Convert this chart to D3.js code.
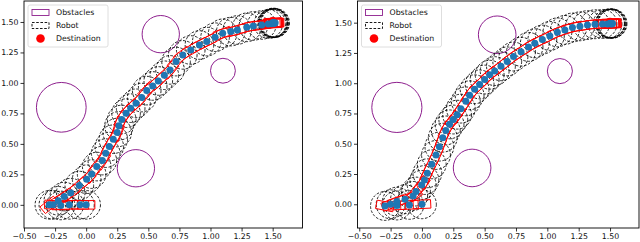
<!DOCTYPE html>
<html>
<head>
<meta charset="utf-8">
<script src="https://cdn.jsdelivr.net/npm/d3@7"></script>
<style>
  body { margin: 0; background: #fff; }
  svg { display: block; }
  text { font-family: "DejaVu Sans", sans-serif; }
</style>
</head>
<body>
<div id="chart"></div>
<script>
// obstacles (same in both runs)
const obstacleX = [0.6, 1.1, -0.2, 0.4];
const obstacleY = [1.4, 1.1, 0.8, 0.3];
const obstacleR = [0.15, 0.1, 0.2, 0.15];

const destination = [1.5, 1.5];

// robot poses, left run
const leftPathX = [0.0, -0.05, -0.135, -0.205, -0.264, -0.296, -0.224, -0.176, -0.124, -0.055, 0.004, 0.044, 0.085, 0.13, 0.157, 0.186, 0.218, 0.25, 0.264, 0.286, 0.321, 0.358, 0.401, 0.447, 0.487, 0.535, 0.58, 0.629, 0.675, 0.723, 0.777, 0.841, 0.911, 0.97, 1.037, 1.098, 1.163, 1.216, 1.292, 1.345, 1.412, 1.465, 1.49, 1.5, 1.505, 1.51, 1.5, 1.515, 1.505, 1.52];
const leftPathY = [0.0, 0.0, 0.0, -0.005, 0.0, 0.0, 0.033, 0.068, 0.10, 0.158, 0.21, 0.252, 0.314, 0.363, 0.424, 0.478, 0.538, 0.593, 0.648, 0.70, 0.752, 0.793, 0.833, 0.88, 0.937, 0.975, 1.016, 1.063, 1.107, 1.175, 1.23, 1.27, 1.311, 1.339, 1.375, 1.407, 1.421, 1.434, 1.456, 1.467, 1.475, 1.484, 1.486, 1.489, 1.49, 1.492, 1.494, 1.49, 1.496, 1.493];

// right run
const rightPathX = [0.0, -0.1, -0.2, -0.295, -0.25, -0.2, -0.135, -0.07, -0.047, -0.002, 0.02, 0.043, 0.078, 0.112, 0.139, 0.166, 0.19, 0.22, 0.25, 0.28, 0.31, 0.35, 0.38, 0.42, 0.46, 0.5, 0.54, 0.58, 0.63, 0.68, 0.73, 0.79, 0.85, 0.9, 0.96, 1.02, 1.08, 1.14, 1.2, 1.26, 1.32, 1.38, 1.44, 1.48, 1.5, 1.51, 1.5, 1.515, 1.505, 1.52];
const rightPathY = [0.0, -0.005, -0.01, -0.014, 0.0, 0.022, 0.042, 0.069, 0.105, 0.16, 0.2, 0.256, 0.33, 0.407, 0.476, 0.55, 0.61, 0.66, 0.70, 0.74, 0.79, 0.85, 0.9, 0.95, 0.99, 1.03, 1.07, 1.1, 1.14, 1.18, 1.22, 1.26, 1.3, 1.33, 1.36, 1.39, 1.42, 1.44, 1.46, 1.47, 1.48, 1.487, 1.49, 1.49, 1.491, 1.492, 1.494, 1.49, 1.496, 1.493];

const xTicks = [-0.5, -0.25, 0, 0.25, 0.5, 0.75, 1.0, 1.25, 1.5];
const yTicks = [0, 0.25, 0.5, 0.75, 1.0, 1.25, 1.5];
const legendLabels = ["Obstacles", "Robot", "Destination"];

// robot footprint in data units
const robotLength = 0.14;
const robotWidth = 0.07;
const robotRadius = 0.115;

const W = 640, H = 242;
const svg = d3.select("#chart").append("svg").attr("width", W).attr("height", H);

const panels = [
  {left: 24, right: 302.5, top: 1, bottom: 228, xd: [-0.5, 1.74], yd: [-0.19, 1.672], px: leftPathX, py: leftPathY},
  {left: 357.5, right: 639, top: 1, bottom: 228, xd: [-0.514, 1.731], yd: [-0.196, 1.679], px: rightPathX, py: rightPathY}
];

panels.forEach(p => {
  const x = d3.scaleLinear().domain(p.xd).range([p.left, p.right]);
  const y = d3.scaleLinear().domain(p.yd).range([p.bottom, p.top]);
  const g = svg.append("g");
  const clipId = "clip" + p.left;
  g.append("clipPath").attr("id", clipId).append("rect")
    .attr("x", p.left).attr("y", p.top).attr("width", p.right - p.left).attr("height", p.bottom - p.top);
  const plot = g.append("g").attr("clip-path", "url(#" + clipId + ")");

  // obstacles
  plot.selectAll("circle.obs").data(obstacleX).enter().append("circle")
    .attr("cx", d => x(d)).attr("cy", (d, i) => y(obstacleY[i]))
    .attr("r", (d, i) => x(obstacleR[i]) - x(0))
    .attr("fill", "none").attr("stroke", "#8e1f8e").attr("stroke-width", 1);

  const poses = p.px.map((d, i) => {
    // heading from neighbouring poses
    const j = Math.min(i + 1, p.px.length - 1), k = Math.max(i - 1, 0);
    let a = Math.atan2(p.py[j] - p.py[k], p.px[j] - p.px[k]);
    if (i >= p.px.length - 8) a = 0.05;
    return {x: d, y: p.py[i], a: a};
  });

  // dashed bounding circles of the robot
  plot.selectAll("circle.robot").data(poses).enter().append("circle")
    .attr("cx", d => x(d.x)).attr("cy", d => y(d.y))
    .attr("r", x(robotRadius) - x(0))
    .attr("fill", "none").attr("stroke", "#000").attr("stroke-width", 0.85)
    .attr("stroke-dasharray", "2.6,1.6");

  // red robot bodies
  plot.selectAll("polygon.body").data(poses).enter().append("polygon")
    .attr("points", d => {
      const c = Math.cos(d.a), s = Math.sin(d.a);
      const hl = robotLength / 2, hw = robotWidth / 2;
      return [[hl, hw], [-hl, hw], [-hl, -hw], [hl, -hw]].map(q =>
        x(d.x + q[0] * c - q[1] * s) + "," + y(d.y + q[0] * s + q[1] * c)).join(" ");
    })
    .attr("fill", "none").attr("stroke", "#ff0000").attr("stroke-width", 1);

  // destination
  plot.append("circle").attr("cx", x(destination[0])).attr("cy", y(destination[1]))
    .attr("r", 5).attr("fill", "#ff0000");

  // trajectory points
  plot.selectAll("circle.pt").data(poses).enter().append("circle")
    .attr("cx", d => x(d.x)).attr("cy", d => y(d.y)).attr("r", 3.5)
    .attr("fill", "#1f77b4");

  // axes
  const xAxis = d3.axisBottom(x).tickValues(xTicks).tickFormat(d3.format(".2f")).tickSize(3.5).tickPadding(2);
  const yAxis = d3.axisLeft(y).tickValues(yTicks).tickFormat(d3.format(".2f")).tickSize(3.5).tickPadding(2);
  const gx = g.append("g").attr("transform", "translate(0," + p.bottom + ")").call(xAxis);
  const gy = g.append("g").attr("transform", "translate(" + p.left + ",0)").call(yAxis);
  [gx, gy].forEach(a => {
    a.select(".domain").remove();
    a.selectAll("text").attr("font-size", 7.8).attr("fill", "#111").attr("font-family", "DejaVu Sans");
    a.selectAll("line").attr("stroke", "#000").attr("stroke-width", 0.8);
  });

  g.append("rect").attr("x", p.left).attr("y", p.top)
    .attr("width", p.right - p.left).attr("height", p.bottom - p.top)
    .attr("fill", "none").attr("stroke", "#000").attr("stroke-width", 0.9);

  // legend
  const lg = g.append("g").attr("transform", "translate(" + (p.left + 4) + "," + (p.top + 4) + ")");
  lg.append("rect").attr("width", 80).attr("height", 42).attr("rx", 2)
    .attr("fill", "#fff").attr("fill-opacity", 0.8).attr("stroke", "#d5d5d5").attr("stroke-width", 0.8);
  lg.append("rect").attr("x", 4).attr("y", 4.5).attr("width", 17).attr("height", 6)
    .attr("fill", "none").attr("stroke", "#8e1f8e").attr("stroke-width", 0.9);
  lg.append("rect").attr("x", 4).attr("y", 17.5).attr("width", 17).attr("height", 6)
    .attr("fill", "none").attr("stroke", "#000").attr("stroke-width", 0.9).attr("stroke-dasharray", "2.6,1.6");
  lg.append("circle").attr("cx", 12.5).attr("cy", 33.5).attr("r", 4.3).attr("fill", "#ff0000");
  lg.selectAll("text").data(legendLabels).enter().append("text")
    .attr("x", 28).attr("y", (d, i) => 7.7 + i * 13)
    .attr("dy", "0.35em").attr("font-size", 7.8).attr("fill", "#111").text(d => d);
});
</script>
</body>
</html>
